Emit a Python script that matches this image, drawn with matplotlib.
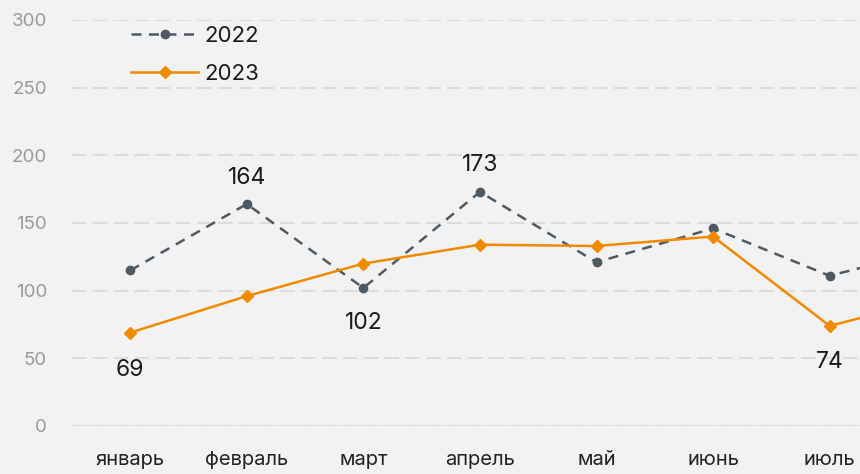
import numpy as np
import matplotlib.pyplot as plt

plt.rcParams['font.family'] = ['Inter', 'DejaVu Sans']

months = ['январь', 'февраль', 'март', 'апрель', 'май', 'июнь', 'июль', 'август']
v2022 = [115, 164, 102, 173, 121, 146, 111, 133]
v2023 = [69, 96, 120, 134, 133, 140, 74, 96]

# which points get a number: offset in points (positive = above)
labels2022 = {1: 19, 2: -25, 3: 19}
labels2023 = {0: -27, 6: -26}

c22 = '#4d5a64'
c23 = '#f08a00'
bg = '#f2f2f2'

fig = plt.figure(figsize=(8.6, 4.74), dpi=100, facecolor=bg)
ax = fig.add_axes([72 / 860, 48 / 474, 1 - 72 / 860, (426 - 20) / 474])
ax.set_facecolor(bg)

x = np.arange(len(months))
ax.plot(x, v2022, color=c22, lw=1.8, ls=(0, (4, 3)), marker='o', ms=6, label='2022')
ax.plot(x, v2023, color=c23, lw=1.8, marker='D', ms=6, label='2023')

for i, off in labels2022.items():
    ax.annotate(str(v2022[i]), (x[i], v2022[i]), xytext=(0, off), textcoords='offset points',
                ha='center', va='center', fontsize=16.5, color='#1a1a1a')
for i, off in labels2023.items():
    ax.annotate(str(v2023[i]), (x[i], v2023[i]), xytext=(0, off), textcoords='offset points',
                ha='center', va='center', fontsize=16.5, color='#1a1a1a')

ax.set_yticks(np.arange(0, 301, 50))
ax.set_xticks(x[:7])
ax.set_xticklabels(months[:7])
ax.set_ylim(0, 300)
ax.set_xlim(-0.5, (860 - 130) / 116.6)
ax.tick_params(axis='y', length=0, pad=18, labelsize=13.5, labelcolor='#9a9a9a')
ax.tick_params(axis='x', length=0, pad=18, labelsize=14.5, labelcolor='#222222')
ax.grid(axis='y', color='#dcdcdc', lw=1.5, ls=(0, (7, 3)))
ax.axhline(0, color='#dcdcdc', lw=1.8, zorder=1)
for s in ax.spines.values():
    s.set_visible(False)

ax.legend(loc='upper left', bbox_to_anchor=(0.05, 1.035), frameon=False, fontsize=16,
          handlelength=3.0, handletextpad=0.3, labelspacing=0.8, labelcolor='#1a1a1a')

fig.savefig('out.png', dpi=100, facecolor=bg)
